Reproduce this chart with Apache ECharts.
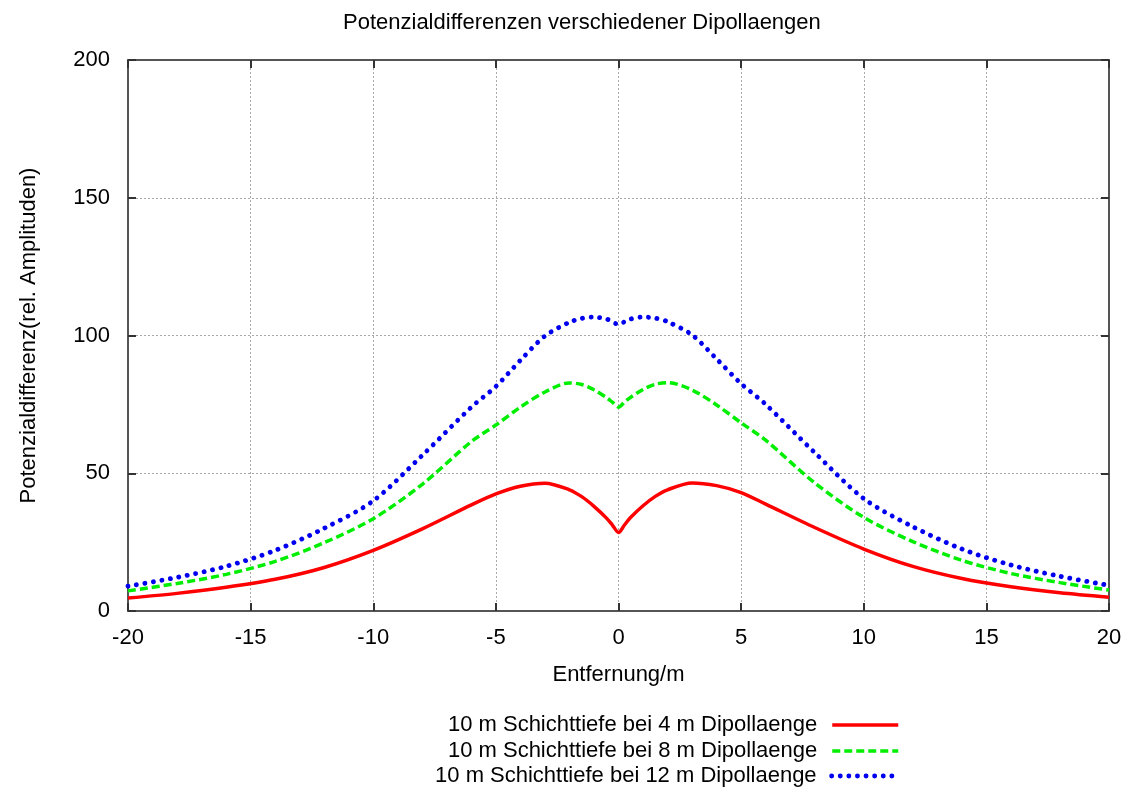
<!DOCTYPE html>
<html>
<head>
<meta charset="utf-8">
<script src="https://cdn.jsdelivr.net/npm/echarts@6/dist/echarts.min.js"></script>
<style>html,body{margin:0;padding:0;background:#fff}#c{width:1134px;height:792px}</style>
</head>
<body>
<div id="c"></div>
<script>
const xs = [-20,-18,-16,-14,-12,-10,-8,-6,-5,-4,-3,-2,-1.5,-1,-0.5,-0.25,0,0.25,0.5,1,1.5,2,3,4,5,6,8,10,12,14,16,18,20];
const dip4 = [4.7,6.4,8.6,11.5,15.8,22,29.8,38.5,42.5,45.3,46.4,44,41.5,38,33.8,31.2,28.5,31.3,34,38.2,41.6,44,46.5,45.5,43,38.8,30.3,22.5,16.2,11.8,8.8,6.6,5];
const dip8 = [7.3,10,13.3,18,24.8,33.5,46,61.5,67.5,74,79.5,82.8,82.2,80.3,77.5,75.8,74,75.9,77.6,80.4,82.3,82.9,80.2,74.8,68.3,62,46.5,34,25.2,18.4,13.6,10.3,7.6];
const dip12 = [9,12.2,16.2,22,30,40,56.5,74,81.5,91,99.8,104.8,106.2,106.7,106,105,104,105,106,106.7,106.3,105,100.2,91.5,82.5,75,57.5,40.8,30.6,22.5,16.7,12.6,9.3];
const seriesNames = ['10 m Schichttiefe bei 4 m Dipollaenge','10 m Schichttiefe bei 8 m Dipollaenge','10 m Schichttiefe bei 12 m Dipollaenge'];
const xTicks = [-20,-15,-10,-5,0,5,10,15,20];
const yTicks = [0,50,100,150,200];

const FONT = 'Liberation Sans, Arial, Helvetica, sans-serif';
const COLORS = ['#ff0000','#00ee00','#0000ee'];
const STYLES = [
  {width:3.5,type:'solid'},
  {width:3.5,type:[8,4]},
  {width:4.8,type:[0.1,8.5],cap:'round'}
];
const pair = v => xs.map((x,i)=>[x,v[i]]);
const chart = echarts.init(document.getElementById('c'));
const legendBase = (i, top) => ({
  data:[seriesNames[i]], orient:'vertical', right:229, top:top, align:'right',
  itemWidth:66, itemHeight:14,
  itemStyle:{opacity:0, borderWidth:0},
  lineStyle:Object.assign({color:COLORS[i]}, STYLES[i]),
  textStyle:{fontFamily:FONT,fontSize:22,color:'#000',padding:[0,10,0,0]},
  selectedMode:false
});
const tick = {show:true,inside:true,length:8,lineStyle:{color:'#333',width:2}};
const aline = {show:true,onZero:false,lineStyle:{color:'#555',width:2}};
const axisCommonX = {
  type:'value', min:xTicks[0], max:xTicks[xTicks.length-1], interval:5
};
const axisCommonY = {
  type:'value', min:yTicks[0], max:yTicks[yTicks.length-1], interval:50
};
chart.setOption({
  animation:false,
  backgroundColor:'#fff',
  title:{text:'Potenzialdifferenzen verschiedener Dipollaengen', left:338, top:7,
    textStyle:{fontFamily:FONT,fontSize:22,fontWeight:'normal',color:'#000'}},
  legend:[legendBase(0,709),legendBase(1,735),legendBase(2,760)],
  grid:{left:128,right:25,top:60,bottom:181},
  xAxis:[
    Object.assign({}, axisCommonX, {
      position:'bottom',
      name:'Entfernung/m', nameLocation:'middle', nameGap:53,
      nameTextStyle:{fontFamily:FONT,fontSize:22,color:'#000'},
      axisLine:aline, axisTick:tick,
      axisLabel:{fontFamily:FONT,fontSize:22,color:'#000',margin:16},
      splitLine:{show:true,lineStyle:{color:'#aaa',width:1,type:[2,2]}}
    }),
    Object.assign({}, axisCommonX, {
      position:'top',
      axisLine:aline, axisTick:tick,
      axisLabel:{show:false}, splitLine:{show:false}
    })
  ],
  yAxis:[
    Object.assign({}, axisCommonY, {
      position:'left',
      name:'Potenzialdifferenz(rel. Amplituden)', nameLocation:'middle', nameGap:88,
      nameTextStyle:{fontFamily:FONT,fontSize:22,color:'#000'},
      axisLine:aline, axisTick:tick,
      axisLabel:{fontFamily:FONT,fontSize:22,color:'#000',margin:18},
      splitLine:{show:true,lineStyle:{color:'#aaa',width:1,type:[2,2]}}
    }),
    Object.assign({}, axisCommonY, {
      position:'right',
      axisLine:aline, axisTick:tick,
      axisLabel:{show:false}, splitLine:{show:false}
    })
  ],
  series:[0,1,2].map(i => ({
    name:seriesNames[i], type:'line', data:pair([dip4,dip8,dip12][i]), smooth:0.3,
    symbol:'none', showSymbol:false,
    itemStyle:{color:COLORS[i]}, lineStyle:Object.assign({color:COLORS[i]}, STYLES[i])
  }))
});
</script>
</body>
</html>
